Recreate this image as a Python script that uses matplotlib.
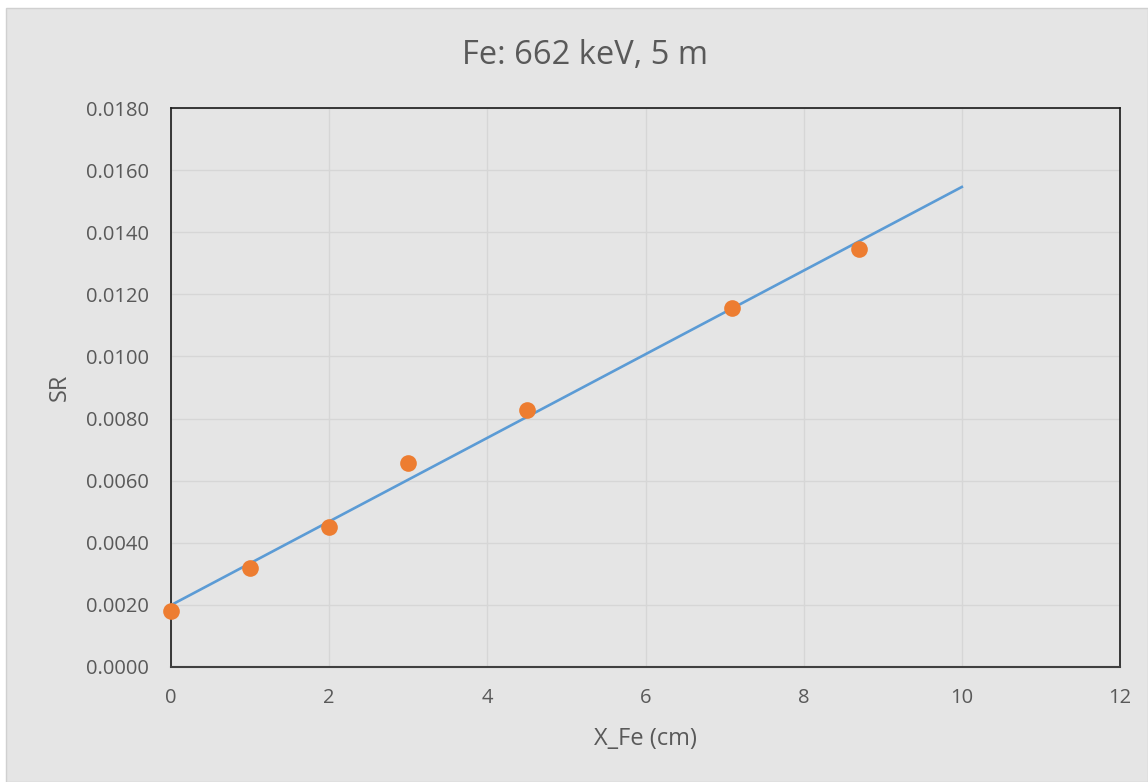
import numpy as np
import matplotlib
matplotlib.use('Agg')
import matplotlib.pyplot as plt
from matplotlib.patches import Rectangle

# Measured data: iron thickness vs SR
x_fe = [0, 1, 2, 3, 4.5, 7.1, 8.7]
sr = [0.00180, 0.00319, 0.00451, 0.00657, 0.00827, 0.01156, 0.01346]

x_ticks = [0, 2, 4, 6, 8, 10, 12]
y_ticks = [0.0, 0.002, 0.004, 0.006, 0.008, 0.010, 0.012, 0.014, 0.016, 0.018]

# linear trendline, forecast forward to x = 10
trend_x = [0, 10]

text_color = '#595959'
bg = '#e5e5e5'

plt.rcParams['font.family'] = ['Open Sans', 'DejaVu Sans']

fig = plt.figure(figsize=(11.48, 7.82), dpi=100)
fig.patch.set_facecolor('white')
fig.add_artist(Rectangle((6 / 1148, 0), 1 - 6 / 1148, 1 - 8 / 782,
                         transform=fig.transFigure, facecolor=bg,
                         edgecolor='#d0d0d0', linewidth=1, zorder=-5))

ax = fig.add_axes([171 / 1148, 1 - 667 / 782, (1120 - 171) / 1148, (667 - 108) / 782])
ax.set_zorder(1)
ax.set_facecolor(bg)

slope, intercept = np.polyfit(x_fe, sr, 1)
tx = np.array(trend_x, dtype=float)
ax.plot(tx, slope * tx + intercept, color='#5b9bd5', linewidth=1.9, zorder=3)
ax.plot(x_fe, sr, 'o', color='#ed7d31', markersize=12, markeredgewidth=0, zorder=4,
        clip_on=False)

ax.set_xlim(0, 12)
ax.set_ylim(0, 0.018)
ax.set_xticks(x_ticks)
ax.set_yticks(y_ticks)
ax.set_yticklabels([f'{v:.4f}' for v in y_ticks])
ax.tick_params(length=0, labelsize=14.5, labelcolor=text_color)
ax.tick_params(axis='y', pad=16)
ax.tick_params(axis='x', pad=15)
ax.grid(True, color='#d6d6d6', linewidth=1)
ax.set_axisbelow(True)

for side in ['top', 'left', 'right']:
    ax.spines[side].set_color('#1a1a1a')
    ax.spines[side].set_linewidth(1.2)
ax.spines['bottom'].set_color('#404040')
ax.spines['bottom'].set_linewidth(1.5)

ax.set_xlabel('X_Fe (cm)', fontsize=17, color=text_color, labelpad=14)
ax.set_ylabel('SR', fontsize=17, color=text_color, labelpad=10)

fig.text(585 / 1148, 1 - 55 / 782, 'Fe: 662 keV, 5 m', ha='center', va='center',
         fontsize=23.5, color=text_color)

fig.savefig('out.png', dpi=100, facecolor=fig.get_facecolor())
